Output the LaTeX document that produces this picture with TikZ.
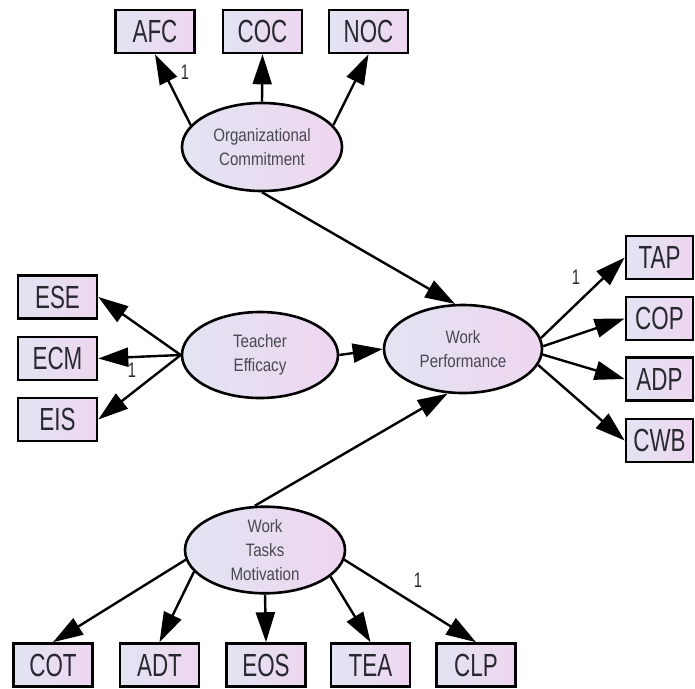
\documentclass[tikz,border=0pt]{standalone}
\usepackage{fontspec}
\newfontfamily\obsfont[FakeStretch=0.70]{Liberation Sans}
\newfontfamily\latfont[FakeStretch=0.84]{Liberation Sans}
\usetikzlibrary{shapes.geometric,arrows.meta}
\definecolor{lavblue}{RGB}{226,228,242}
\definecolor{lavpink}{RGB}{238,214,240}
\definecolor{inkgray}{RGB}{40,40,48}
\tikzset{
  obs/.style={draw, line width=2.6pt, left color=lavblue, right color=lavpink,
    minimum width=79pt, minimum height=43pt, inner sep=0pt, text=inkgray,
    font=\obsfont\fontsize{32}{32}\selectfont},
  lat/.style={ellipse, draw, line width=2.6pt, left color=lavblue, right color=lavpink,
    inner sep=0pt, align=center, text=inkgray!85,
    font=\latfont\fontsize{18}{24}\selectfont},
  conn/.style={line width=2.4pt, -{Triangle[length=30pt,width=19pt]}},
  one/.style={inner sep=0pt, text=inkgray, font=\obsfont\fontsize{21}{21}\selectfont}
}
\begin{document}
\begin{tikzpicture}[x=1pt, y=-1pt]
      \path[use as bounding box] (0, 0) rectangle (695, 688);

      % latent variables
      \node[lat, minimum width=160pt, minimum height=88pt] (org) at (262, 147) {Organizational\\Commitment};
      \node[lat, minimum width=156pt, minimum height=86pt] (te) at (260, 355) {Teacher\\Efficacy};
      \node[lat, minimum width=158pt, minimum height=88pt] (wp) at (463, 349) {Work\\Performance};
      \node[lat, minimum width=160pt, minimum height=86pt] (wtm) at (265, 550) {Work\\Tasks\\Motivation};

      % indicators
      \foreach \n/\x in {AFC/155, COC/262.5, NOC/368.5}
        \node[obs] (\n) at (\x, 31.5) {\n};
      \foreach \n/\y in {ESE/297, ECM/358.5, EIS/419.5}
        \node[obs] (\n) at (57.5, \y) {\n};
      \foreach \n/\y in {TAP/257.5, COP/318.5, ADP/379, CWB/440.5}
        \node[obs, minimum width=67pt] (\n) at (659.5, \y) {\n};
      \foreach \n/\x in {COT/53, ADT/159.5, EOS/266, TEA/370.5, CLP/476}
        \node[obs] (\n) at (\x, 665) {\n};

      % loadings
      \draw[conn] (org.163) -- (AFC.south);
      \draw[conn] (org.north) -- (COC.south);
      \draw[conn] (org.17) -- (NOC.south);
      \foreach \n in {ESE, ECM, EIS}
        \draw[conn] (te.west) -- (\n.east);
      \draw[conn] (wp.8) -- (TAP.west);
      \draw[conn] (wp.2) -- (COP.west);
      \draw[conn] (wp.-4) -- (ADP.west);
      \draw[conn] (wp.-12) -- (CWB.west);
      \draw[conn] (wtm.187) -- (COT.north);
      \draw[conn] (wtm.197) -- (ADT.north);
      \draw[conn] (wtm.south) -- (EOS.north);
      \draw[conn] (wtm.338) -- (TEA.north);
      \draw[conn] (wtm.353) -- (CLP.north);

      % structural paths
      \draw[conn] (org.south) -- (wp.100);
      \draw[conn] (te.east) -- (wp.west);
      \draw[conn] (wtm.103) -- (wp.251);

      % fixed loadings
      \node[one] (oneAFC) at (185, 72) {1};
      \node[one] (oneECM) at (132, 370) {1};
      \node[one] (oneTAP) at (576, 277) {1};
      \node[one] (oneCLP) at (418, 580) {1};
    \end{tikzpicture}
\end{document}
